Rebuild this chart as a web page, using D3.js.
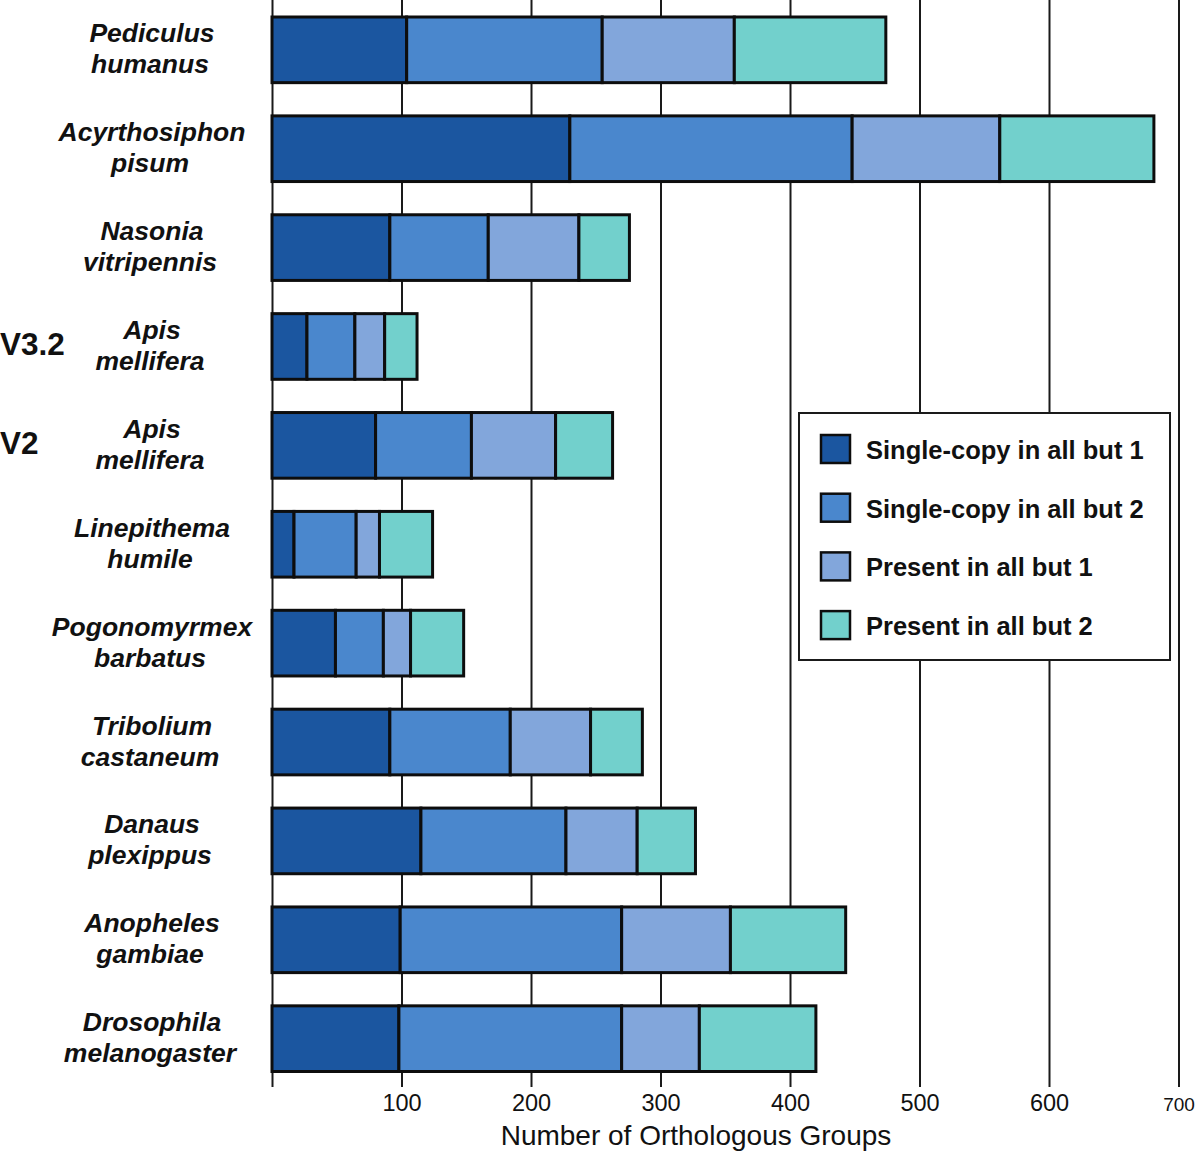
<!DOCTYPE html>
<html>
<head>
<meta charset="utf-8">
<script src="https://cdn.jsdelivr.net/npm/d3@7"></script>
<style>
  body { margin: 0; background: #fff; }
  svg { display: block; font-family: "Liberation Sans", Arial, Helvetica, sans-serif; }
</style>
</head>
<body>
<div class="container"></div>
<script>
// species names, split over two lines like the original
const genus = ['Pediculus', 'Acyrthosiphon', 'Nasonia', 'Apis', 'Apis', 'Linepithema',
  'Pogonomyrmex', 'Tribolium', 'Danaus', 'Anopheles', 'Drosophila']
const epithet = ['humanus', 'pisum', 'vitripennis', 'mellifera', 'mellifera', 'humile',
  'barbatus', 'castaneum', 'plexippus', 'gambiae', 'melanogaster']
const versions = ['', '', '', 'V3.2', 'V2', '', '', '', '', '', '']

const seriesNames = ['Single-copy in all but 1', 'Single-copy in all but 2',
  'Present in all but 1', 'Present in all but 2']
const colors = ['#1b56a0', '#4a87cd', '#82a6db', '#72d0cc']

// counts per species, one array per series
const singleBut1 = [104, 230, 91, 27, 80, 17, 49, 91, 115, 99, 98]
const singleBut2 = [151, 218, 76, 37, 74, 48, 37, 93, 112, 171, 172]
const presentBut1 = [102, 114, 70, 23, 65, 18, 21, 62, 55, 84, 60]
const presentBut2 = [117, 119, 39, 25, 44, 41, 41, 40, 45, 89, 90]

const tickValues = [0, 100, 200, 300, 400, 500, 600, 700]
const xTitle = 'Number of Orthologous Groups'

const width = 1200
const height = 1153

const rows = genus.map((g, i) => ({
  id: i,
  genus: g,
  epithet: epithet[i],
  version: versions[i],
  values: [singleBut1[i], singleBut2[i], presentBut1[i], presentBut2[i]]
}))

const svg = d3.select('.container')
  .append('svg')
  .attr('width', width)
  .attr('height', height)

const xScale = d3.scaleLinear()
  .domain([0, 700])
  .range([272, 1178.5])

const yScale = d3.scaleBand()
  .domain(rows.map((d) => d.id))
  .range([17, 1071.5])
  .paddingInner(0.336)
  .paddingOuter(0)

const axisY = 1087

// ticks that run up the whole plot as grid lines
const xAxis = svg.append('g')
  .attr('transform', `translate(0, ${axisY})`)
  .call(d3.axisBottom(xScale)
    .tickValues(tickValues)
    .tickSizeInner(-axisY)
    .tickSizeOuter(0)
    .tickPadding(8)
    .tickFormat((d) => d === 0 ? '' : d))

xAxis.select('.domain').remove()
xAxis.selectAll('.tick line')
  .attr('stroke', '#1a1a1a')
  .attr('stroke-width', 2)
xAxis.selectAll('.tick text')
  .attr('fill', '#111')
  .attr('font-family', '"Liberation Sans", Arial, sans-serif')
  .attr('font-size', (d) => d === 700 ? '19px' : '23.5px')
  .attr('dy', (d) => d === 700 ? '0.85em' : '0.68em')

svg.append('text')
  .attr('x', 696)
  .attr('y', 1145)
  .attr('text-anchor', 'middle')
  .attr('font-size', '28px')
  .attr('fill', '#111')
  .text(xTitle)

// stacked bars
const stack = d3.stack()
  .keys([0, 1, 2, 3])
  .value((d, k) => d.values[k])

const layers = stack(rows)

svg.append('g')
  .selectAll('g')
  .data(layers)
  .enter()
  .append('g')
  .attr('fill', (d) => colors[d.key])
  .selectAll('rect')
  .data((d) => d)
  .enter()
  .append('rect')
  .attr('x', (d) => xScale(d[0]))
  .attr('y', (d) => yScale(d.data.id))
  .attr('width', (d) => xScale(d[1]) - xScale(d[0]))
  .attr('height', yScale.bandwidth())
  .attr('stroke', '#0d0d0d')
  .attr('stroke-width', 3)

// species labels
const labels = svg.append('g')
  .selectAll('g')
  .data(rows)
  .enter()
  .append('g')
  .attr('transform', (d) => `translate(0, ${yScale(d.id) + yScale.bandwidth() / 2})`)

labels.append('text')
  .attr('x', 150)
  .attr('text-anchor', 'middle')
  .attr('font-size', '26.5px')
  .attr('font-weight', 'bold')
  .attr('font-style', 'italic')
  .attr('fill', '#111')
  .each(function(d) {
    const t = d3.select(this)
    t.append('tspan').attr('x', 152).attr('y', -7.5).text(d.genus)
    t.append('tspan').attr('x', 150).attr('y', 23.5).text(d.epithet)
  })

labels.filter((d) => d.version !== '')
  .append('text')
  .attr('x', 0)
  .attr('y', 8.5)
  .attr('font-size', '31.5px')
  .attr('font-weight', 'bold')
  .attr('fill', '#111')
  .text((d) => d.version)

// legend
const legend = svg.append('g')

legend.append('rect')
  .attr('x', 799)
  .attr('y', 413)
  .attr('width', 371)
  .attr('height', 247)
  .attr('fill', '#fff')
  .attr('stroke', '#1a1a1a')
  .attr('stroke-width', 2)

const items = legend.selectAll('.item')
  .data(seriesNames)
  .enter()
  .append('g')
  .attr('class', 'item')
  .attr('transform', (d, i) => `translate(821, ${435 + i * 58.7})`)

items.append('rect')
  .attr('width', 29)
  .attr('height', 28)
  .attr('fill', (d, i) => colors[i])
  .attr('stroke', '#0d0d0d')
  .attr('stroke-width', 2.5)

items.append('text')
  .attr('x', 45)
  .attr('y', 24)
  .attr('font-size', '25.5px')
  .attr('font-weight', 'bold')
  .attr('fill', '#111')
  .text((d) => d)
</script>
</body>
</html>
